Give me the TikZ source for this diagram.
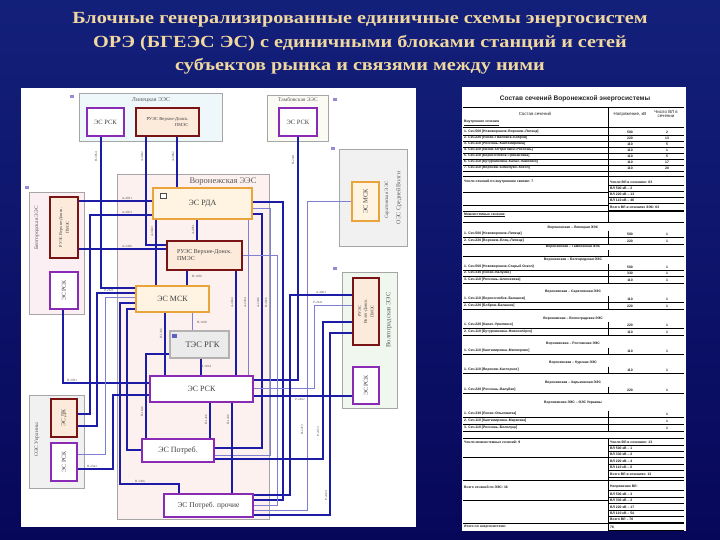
\documentclass[tikz,border=0pt]{standalone}
\usepackage{fontspec}
\setmainfont{Liberation Serif}
\setsansfont{Liberation Sans}
\usetikzlibrary{positioning}
\definecolor{slidetop}{HTML}{13207A}
\definecolor{slidebot}{HTML}{07075A}
\definecolor{titlecol}{HTML}{F0D8A0}
\definecolor{rskviolet}{HTML}{8A2BB5}
\definecolor{ruesred}{HTML}{7A1414}
\definecolor{ruesfill}{HTML}{FCEADB}
\definecolor{mskorange}{HTML}{E9A43C}
\definecolor{mskfill}{HTML}{FFF4E2}
\definecolor{wiredark}{HTML}{1C1CA6}
\definecolor{wirelight}{HTML}{7F7FD4}
\definecolor{vorfill}{HTML}{FDF1EF}
\definecolor{lipfill}{HTML}{EEF8FA}
\definecolor{tambfill}{HTML}{FBFBF3}
\definecolor{belgfill}{HTML}{FBEFF4}
\definecolor{volfill}{HTML}{EFF7EF}
\definecolor{greyfill}{HTML}{F1F1F1}
\definecolor{iconlav}{HTML}{9A88D0}

\tikzset{
  region/.style={draw=black!35, line width=0.6pt},
  rskbox/.style={draw=rskviolet, line width=1.5pt, fill=white, text=black!75, align=center, inner sep=1pt},
  ruesbox/.style={draw=ruesred, line width=1.5pt, fill=ruesfill, text=black!75, align=center, inner sep=1pt},
  mskbox/.style={draw=mskorange, line width=1.5pt, fill=mskfill, text=black!75, inner sep=1pt},
  tesbox/.style={draw=black!30, line width=1.5pt, fill=black!8, text=black!75, inner sep=1pt},
  reglbl/.style={text=black!65, inner sep=0pt},
  wd/.style={draw=wiredark, line width=1.2pt},
  wl/.style={draw=wirelight, line width=0.6pt},
  lbl/.style={font=\fontsize{3.2}{3.6}\selectfont, text=black!70, inner sep=0pt},
  titletext/.style={font=\fontsize{17}{20}\selectfont\bfseries, text=titlecol, inner sep=0pt},
  tabcell/.style={font=\sffamily\bfseries\fontsize{3.4}{3.8}\selectfont, text=black!90, inner sep=0pt},
  tabhead/.style={font=\sffamily\fontsize{4.4}{4.8}\selectfont, text=black!85, inner sep=0pt, align=center},
  tabrule/.style={draw=black, line width=0.5pt},
  iconsq/.style={fill=iconlav, draw=none}
}

\begin{document}
\begin{tikzpicture}[x=1pt, y=-1pt]
  \useasboundingbox (0,0) rectangle (720,540);
  \shade[top color=slidetop, bottom color=slidebot] (0,0) rectangle (720,540);

  % title
  \node[titletext, anchor=base] (title1) at (360,24) {\scalebox{1.19}[1]{Блочные генерализированные единичные схемы энергосистем}};
  \node[titletext, anchor=base] (title2) at (360,47.5) {\scalebox{1.19}[1]{ОРЭ (БГЕЭС ЭС) с единичными блоками станций и сетей}};
  \node[titletext, anchor=base] (title3) at (360,70.5) {\scalebox{1.19}[1]{субъектов рынка и связями между ними}};

  % panels
  \fill[white] (21,88) rectangle (416,527);
  \fill[white] (462,87) rectangle (686,531);

  % energy systems
  \node[region, fill=lipfill, minimum width=143, minimum height=48] (lipEES) at (150.5,117) {};
  \node[reglbl, font=\fontsize{6}{7}\selectfont] (lipName) at (151,100) {Липецкая ЭЭС};
  \node[region, fill=tambfill, minimum width=61, minimum height=46] (tambEES) at (297.5,118) {};
  \node[reglbl, font=\fontsize{5.5}{6}\selectfont] (tambName) at (298,100) {Тамбовская ЭЭС};
  \node[region, fill=greyfill, minimum width=68, minimum height=97] (sredOES) at (373,197.5) {};
  \node[reglbl, font=\fontsize{6}{7}\selectfont] (sredName) at (399,198) {\rotatebox{90}{ОЭС Средней Волги}};
  \node[reglbl, font=\fontsize{5}{6}\selectfont] (sarName) at (387,200) {\rotatebox{90}{Саратовская ЭЭС}};
  \node[region, fill=vorfill, minimum width=152, minimum height=345] (vorEES) at (193,346.5) {};
  \node[reglbl, font=\fontsize{8.5}{9}\selectfont] (vorName) at (223,182) {Воронежская ЭЭС};
  \node[region, fill=belgfill, minimum width=55, minimum height=122] (belgEES) at (56.5,253) {};
  \node[reglbl, font=\fontsize{5.5}{6}\selectfont] (belgName) at (37,228) {\rotatebox{90}{Белгородская ЭЭС}};
  \node[region, fill=greyfill, minimum width=55, minimum height=93] (ukrOES) at (56.5,441.5) {};
  \node[reglbl, font=\fontsize{5.5}{6}\selectfont] (ukrName) at (37,440) {\rotatebox{90}{ОЭС Украины}};
  \node[region, fill=volfill, minimum width=55, minimum height=136] (volEES) at (369.5,340) {};
  \node[reglbl, font=\fontsize{6.5}{7}\selectfont] (volName) at (389,320) {\rotatebox{90}{Волгоградская ЭЭС}};

  % icons
  \fill[iconsq] (70,95) rectangle +(4,3);
  \fill[iconsq] (333,98) rectangle +(4,3);
  \fill[iconsq] (331,147) rectangle +(4,3);
  \fill[iconsq] (333,267) rectangle +(4,3);
  \fill[iconsq] (25,186) rectangle +(4,3);

  % units
  \node[rskbox, minimum width=37, minimum height=28, font=\fontsize{6.5}{7}\selectfont] (lipRSK) at (105.5,122) {ЭС РСК};
  \node[ruesbox, minimum width=63, minimum height=28, font=\fontsize{4.6}{5.5}\selectfont, align=right] (lipRUES) at (167.5,122) {РУЭС Верхне-Донск.\\ПМЭС};
  \node[rskbox, minimum width=38, minimum height=28, font=\fontsize{6.5}{7}\selectfont] (tambRSK) at (298,122) {ЭС РСК};
  \node[mskbox, minimum width=27, minimum height=39, font=\fontsize{6.5}{7}\selectfont] (sarMSK) at (365.5,201.5) {\rotatebox{90}{ЭС МСК}};
  \node[mskbox, minimum width=99, minimum height=31, font=\fontsize{8}{9}\selectfont] (vorRDA) at (202.5,203.5) {ЭС РДА};
  \node[ruesbox, minimum width=75, minimum height=29, font=\fontsize{6}{7}\selectfont, align=left] (vorRUES) at (204.5,255.5) {РУЭС Верхне-Донск.\\ПМЭС\hspace{12pt}};
  \node[mskbox, minimum width=73, minimum height=26, font=\fontsize{8}{9}\selectfont] (vorMSK) at (172.5,299) {ЭС МСК};
  \node[tesbox, minimum width=59, minimum height=27, font=\fontsize{8.5}{9}\selectfont] (vorTES) at (199.5,344.5) {\hspace{6pt}ТЭС РГК};
  \node[rskbox, minimum width=103, minimum height=26, font=\fontsize{8}{9}\selectfont] (vorRSK) at (201.5,389) {ЭС РСК};
  \node[rskbox, minimum width=72, minimum height=23, font=\fontsize{8}{9}\selectfont] (vorPotr) at (178,450.5) {ЭС Потреб.};
  \node[rskbox, minimum width=89, minimum height=23, font=\fontsize{7.5}{9}\selectfont] (vorPP) at (208.5,505.5) {ЭС Потреб. прочие};
  \node[ruesbox, minimum width=28, minimum height=61, font=\fontsize{4.3}{5}\selectfont] (belgRUES) at (64,227.5) {\rotatebox{90}{\shortstack{РУЭС Верхне-Донск.\\ПМЭС}}};
  \node[rskbox, minimum width=28, minimum height=37, font=\fontsize{6}{7}\selectfont] (belgRSK) at (64,290.5) {\rotatebox{90}{ЭС РСК}};
  \node[ruesbox, minimum width=26, minimum height=38, font=\fontsize{6}{7}\selectfont] (ukrDK) at (64,418) {\rotatebox{90}{ЭС ДК}};
  \node[rskbox, minimum width=26, minimum height=38, font=\fontsize{6}{7}\selectfont] (ukrRSK) at (64,462) {\rotatebox{90}{ЭС РСК}};
  \node[ruesbox, minimum width=26, minimum height=67, font=\fontsize{4.3}{5}\selectfont] (volRUES) at (366,311.5) {\rotatebox{90}{\shortstack{РУЭС\\Волго-Донск.\\ПМЭС}}};
  \node[rskbox, minimum width=26, minimum height=37, font=\fontsize{6}{7}\selectfont] (volRSK) at (366,385.5) {\rotatebox{90}{ЭС РСК}};
  \draw[black!70, fill=white] (160,193) rectangle +(6,5);
  \fill[wiredark!70] (172,334) rectangle +(5,4);

  % connections between units
  \draw[wd] (lipRSK.south -| 101,0) |- (vorMSK.west |- 0,288);
  \draw[wd] (lipRUES.south -| 146,0) |- (vorRUES.west |- 0,245);
  \draw[wd] (lipRUES.south -| 177,0) -- (vorRDA.north -| 177,0);
  \draw[wd] (tambRSK.south -| 298,0) |- (vorRSK.east |- 0,380);
  \draw[wl] (sarMSK.west) -| (307,510) -- (vorPP.east |- 0,510);
  \draw[wd] (belgRUES.east |- 0,201) -- (vorRDA.west |- 0,201);
  \draw[wd] (belgRUES.east |- 0,249) -- (vorRUES.west |- 0,249);
  \draw[wd] (belgRSK.south -| 63,0) |- (vorRSK.west |- 0,383);
  \draw[wd] (ukrDK.east |- 0,414) -| (90,215) -- (vorRDA.west |- 0,215);
  \draw[wd] (ukrDK.east |- 0,426) -| (97,293) -- (vorMSK.west |- 0,293);
  \draw[wl] (ukrRSK.east |- 0,454) -| (105,297) -- (vorMSK.west |- 0,297);
  \draw[wd] (ukrRSK.east |- 0,469) -| (113,395) -- (vorRSK.west |- 0,395);
  \draw[wd] (vorRDA.south -| 156,0) -- (vorMSK.north -| 156,0);
  \draw[wd] (vorRDA.south -| 197,0) -- (vorRUES.north -| 197,0);
  \draw[wd] (vorRUES.south -| 187,0) -- (vorMSK.north -| 187,0);
  \draw[wd] (vorMSK.west |- 0,303) -| (120,484) -| (vorPP.north -| 179,0);
  \draw[wd] (vorMSK.west |- 0,309) -| (127,450) -- (vorPotr.west |- 0,450);
  \draw[wd] (vorMSK.south -| 165,0) -- (vorRSK.north -| 165,0);
  \draw[wl] (vorMSK.south -| 192,0) -- (vorTES.north -| 192,0);
  \draw[wd] (vorTES.west |- 0,354) -| (vorPotr.north -| 146,0);
  \draw[wd] (vorTES.south -| 201,0) -- (vorRSK.north -| 201,0);
  \draw[wd] (vorRUES.south -| 236,0) -- (vorRSK.north -| 236,0);
  \draw[wl] (vorRDA.south -| 248,0) -- (vorRSK.north -| 248,0);
  \draw[wd] (vorRDA.east |- 0,214) -| (262,448) -- (vorPotr.east |- 0,448);
  \draw[wl] (vorRDA.east |- 0,208) -| (270,455) -- (vorPotr.east |- 0,455);
  \draw[wd] (vorRDA.east |- 0,202) -| (283,500) -- (vorPP.east |- 0,500);
  \draw[wl] (vorRUES.east |- 0,255) -| (277,505) -- (vorPP.east |- 0,505);
  \draw[wd] (vorRSK.east |- 0,396) -- (volRSK.west |- 0,396);
  \draw[wl] (vorRSK.east |- 0,388) -| (314,305) -- (volRUES.west |- 0,305);
  \draw[wd] (volRUES.west |- 0,295) -| (290,495) -- (vorPP.east |- 0,495);
  \draw[wd] (volRUES.west |- 0,322) -| (323,459) -- (vorPotr.east |- 0,459);
  \draw[wd] (volRUES.west |- 0,333) -| (330,515) -- (vorPP.east |- 0,515);
  \draw[wd] (vorRSK.south -| 210,0) -- (vorPotr.north -| 210,0);
  \draw[wd] (vorRSK.south -| 232,0) -- (vorPP.north -| 232,0);

  % section labels on the lines
  \foreach \lx/\ly/\la/\lt [count=\i] in {
    96/157/90/Н-3054, 142/157/90/А-4042, 173/157/90/А-3082, 293/160/90/Н-2441,
    127/198/0/А-4031, 127/212/0/А-4052, 127/246/0/А-2436, 152/232/90/А-3043,
    193/230/90/А-4051, 197/276/0/Н-1636, 109/290/0/Р-2421, 140/481/0/Н-1456,
    161/334/90/Н-1336, 202/322/0/Н-1628, 142/412/90/Н-1646, 206/366/0/Н-1624,
    72/380/0/Н-2581, 92/466/0/Н-2542, 206/420/90/Н-1426, 228/420/90/Н-1436,
    232/303/90/А-4044, 245/303/90/А-2434, 258/303/90/А-2446, 266/303/90/Н-4026,
    318/302/0/Р-2431, 321/292/0/А-4061, 300/399/0/Р-2462, 318/432/90/Р-2453,
    326/496/90/Р-2404, 302/430/90/Н-2473} {
    \node[lbl] (wlab\i) at (\lx,\ly) {\rotatebox{\la}{\lt}};
  }

  % table of sections
  \node[font=\sffamily\bfseries\fontsize{6.6}{8}\selectfont, text=black!85, inner sep=0pt] (tabTitle) at (575,99) {Состав сечений Воронежской энергосистемы};
  \draw[tabrule] (463,107) -- (684,107);
  \draw[tabrule] (608,107) -- (608,222);
  \node[tabhead] (thSec) at (535,114) {Состав сечений};
  \node[tabhead] (thKV) at (630,114) {Напряжение, кВ};
  \node[tabhead] (thNum) at (666,114) {Число ВЛ в\\сечении};
  \node[tabcell, anchor=west] (thIn) at (464,123) {\underline{Внутренние сечения}};
  \draw[tabrule] (463,127) -- (684,127);
  \foreach \ry/\rtext/\rvolt/\rnum in {
    132/{1. Сеч.500 [Нововоронеж--Воронеж--Липецк]}/500/2,
    138/{2. Сеч.220 [Лиски--Павловск--Бобров]}/220/13,
    144/{3. Сеч.110 [Россошь--Кантемировка]}/110/5,
    150/{4. Сеч.110 [Лиски--Острогожск--Россошь]}/110/1,
    156/{5. Сеч.110 [Борисоглебск--Грибановка]}/110/5,
    162/{6. Сеч.110 [Бутурлиновка--Калач--Павловск]}/110/17,
    168/{7. Сеч.110 [Воронеж--Семилуки--Хохол]}/110/20,
    234/{1. Сеч.500 [Нововоронеж--Липецк]}/500/1,
    241/{2. Сеч.220 [Воронеж--Елец--Липецк]}/220/1,
    253/{}/{}/{},
    267/{1. Сеч.500 [Нововоронеж--Старый Оскол]}/500/1,
    273/{2. Сеч.330 [Лиски--Валуйки]}/330/1,
    280/{3. Сеч.110 [Россошь--Алексеевка]}/110/1,
    299/{1. Сеч.110 [Борисоглебск--Балашов]}/110/1,
    306/{2. Сеч.220 [Бобров--Балашов]}/220/1,
    325/{1. Сеч.220 [Калач--Урюпинск]}/220/1,
    332/{2. Сеч.110 [Бутурлиновка--Новохопёрск]}/110/1,
    351/{1. Сеч.110 [Кантемировка--Миллерово]}/110/1,
    370/{1. Сеч.110 [Воронеж--Касторное]}/110/1,
    390/{1. Сеч.220 [Россошь--Валуйки]}/220/1,
    414/{1. Сеч.330 [Лиски--Ольховатка]}/{}/1,
    421/{2. Сеч.110 [Кантемировка--Марковка]}/{}/1,
    428/{3. Сеч.110 [Россошь--Белолуцк]}/{}/1} {
    \node[tabcell, anchor=west] (rt\ry) at (464,\ry) {\rtext};
    \node[tabcell] (rv\ry) at (630,\ry) {\rvolt};
    \node[tabcell] (rn\ry) at (667,\ry) {\rnum};
    \draw[tabrule] (608,\ry-3.4) -- (608,\ry+3.4);
    \draw[tabrule] (463,\ry+3.4) -- (684,\ry+3.4);
  }
  \foreach \hy/\htext in {228/Воронежская -- Липецкая ЭЭС, 247/Воронежская -- Тамбовская ЭЭС,
    260/Воронежская -- Белгородская ЭЭС, 292/Воронежская -- Саратовская ЭЭС,
    319/Воронежская -- Волгоградская ЭЭС, 344/Воронежская -- Ростовская ЭЭС,
    363/Воронежская -- Курская ЭЭС, 383/Воронежская -- Харьковская ЭЭС,
    403/Воронежская ЭЭС -- ОЭС Украины} {
    \node[tabcell] (hd\hy) at (573,\hy) {\htext};
  }
  % totals
  \draw[tabrule] (463,176) -- (684,176);
  \node[tabcell, anchor=west] (sumIn) at (464,182) {Число сечений по внутренним связям: 7};
  \draw[tabrule] (463,192) -- (608,192);
  \draw[tabrule] (463,205) -- (608,205);
  \draw[tabrule] (463,211) -- (684,211);
  \node[tabcell, anchor=west] (secOut) at (464,215) {\underline{Межсистемные сечения}};
  \draw[tabrule] (463,222) -- (684,222);
  \draw[tabrule] (463,438) -- (684,438);
  \draw[tabrule] (608,438) -- (608,531);
  \node[tabcell, anchor=west] (sumOut) at (464,442) {Число межсистемных сечений: 9};
  \draw[tabrule] (463,457) -- (608,457);
  \draw[tabrule] (463,480) -- (684,480);
  \node[tabcell, anchor=west] (sumAll) at (464,487) {Всего сечений по ЭЭС: 16};
  \draw[tabrule] (463,500) -- (608,500);
  \draw[tabrule] (463,523) -- (684,523);
  \node[tabcell, anchor=west] (sumEnd) at (464,527) {Итого по энергосистеме:};
  \foreach \sy/\stext in {182/Число ВЛ в сечениях: 63, 188/ВЛ 500 кВ -- 2, 194/ВЛ 220 кВ -- 13,
    200/ВЛ 110 кВ -- 48, 207/Всего ВЛ в сечениях ЭЭС: 63,
    442/Число ВЛ в сечениях: 13, 448/ВЛ 500 кВ -- 1, 454/ВЛ 330 кВ -- 2,
    461/ВЛ 220 кВ -- 4, 467/ВЛ 110 кВ -- 6, 474/Всего ВЛ в сечениях: 13,
    487/Напряжение ВЛ:, 494/ВЛ 500 кВ -- 3, 500/ВЛ 330 кВ -- 2,
    507/ВЛ 220 кВ -- 17, 513/ВЛ 110 кВ -- 54, 519/Всего ВЛ -- 76, 527/76} {
    \node[tabcell, anchor=west] (sm\sy) at (610,\sy) {\stext};
    \draw[tabrule] (608,\sy+3.2) -- (684,\sy+3.2);
  }
\end{tikzpicture}
\end{document}
